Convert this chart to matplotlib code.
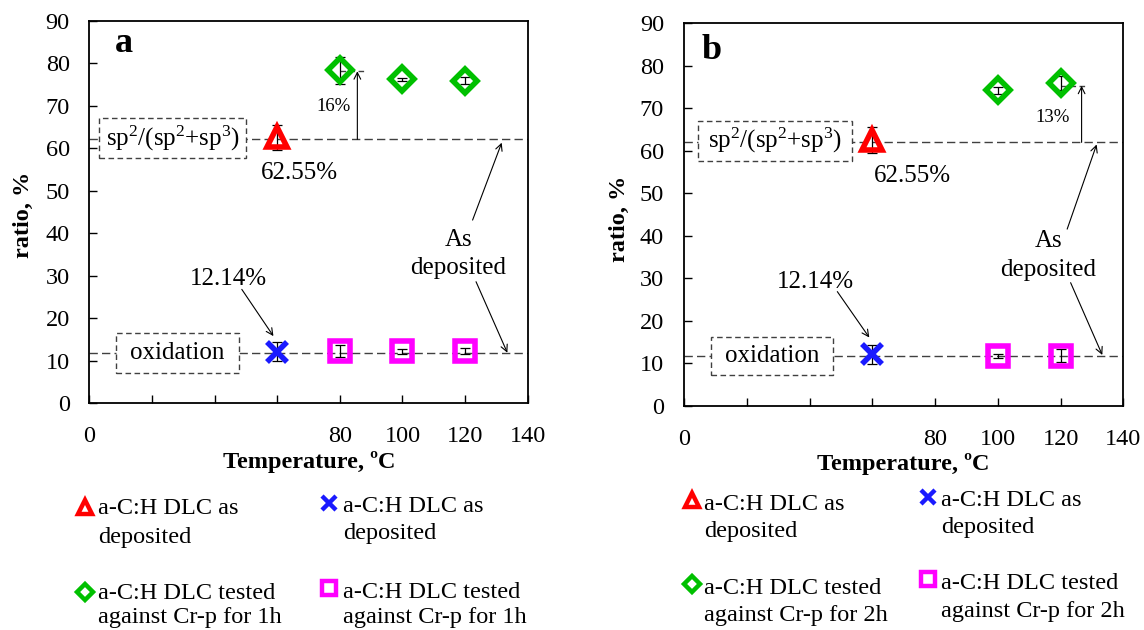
import matplotlib
matplotlib.use("Agg")
import matplotlib.pyplot as plt
from matplotlib.patches import Rectangle
from matplotlib.lines import Line2D

plt.rcParams['font.family'] = ['Liberation Serif', 'DejaVu Serif']
plt.rcParams['mathtext.fontset'] = 'custom'
plt.rcParams['mathtext.rm'] = 'Liberation Serif'
plt.rcParams['mathtext.default'] = 'rm'

# ---------------- data ----------------
asdep_temp = [60]
asdep_sp2 = [62.55]
asdep_sp2_err = [3.0]
asdep_ox = [12.14]
asdep_ox_err = [2.3]

temps_a = [80, 100, 120]
sp2_a = [78.3, 76.2, 75.9]
sp2_a_err = [3.25, 0.3, 0.8]
ox_a = [12.3, 12.2, 12.3]
ox_a_err = [1.4, 0.55, 0.65]

temps_b = [100, 120]
sp2_b = [74.2, 75.9]
sp2_b_err = [0.9, 1.6]
ox_b = [11.8, 11.8]
ox_b_err = [0.4, 1.5]

xticks = [0, 20, 40, 60, 80, 100, 120, 140]
xticklabels = ['0', '', '', '', '80', '100', '120', '140']
yticks = [0, 10, 20, 30, 40, 50, 60, 70, 80, 90]

W, H = 1144, 630
fig = plt.figure(figsize=(W / 100, H / 100), dpi=100)

RED = '#FF0000'
GREEN = '#00C000'
BLUE = '#1A1AFF'
MAG = '#FF00FF'
DASH = '#404040'


def px(x, y):
    return x / W, 1 - y / H


def panel(rect, letter, t_sp2, v_sp2, e_sp2, t_ox, v_ox, e_ox, sp2_line, ox_line,
          box1, box2, pct_txt, pct_pos, arrow_x, arrow_top, dash_x0, dash_x1,
          p6255, p1214, a1214, as_pos, as_arr1, as_arr2, letter_pos, ypad):
    ax = fig.add_axes(rect)
    ax.set_xlim(0, 140)
    ax.set_ylim(0, 90)
    ax.set_xticks(xticks)
    ax.set_xticklabels(xticklabels)
    ax.set_yticks(yticks)
    ax.tick_params(axis='both', direction='in', length=5.5, width=1, labelsize=17.5)
    ax.tick_params(axis='x', pad=16.5)
    ax.tick_params(axis='y', pad=ypad)
    for s in ax.spines.values():
        s.set_linewidth(1.3)

    # reference dashed lines
    ax.plot([0, 140], [sp2_line, sp2_line], ls=(0, (6, 3)), color=DASH, lw=1.0, zorder=1)
    ax.plot([0, 140], [ox_line, ox_line], ls=(0, (6, 3)), color=DASH, lw=1.0, zorder=1)

    # boxes
    for (x0, x1, y0, y1, txt) in [box1, box2]:
        ax.add_patch(Rectangle((x0, y0), x1 - x0, y1 - y0, facecolor='white',
                               edgecolor=DASH, ls=(0, (4, 2.5)), lw=1.0, zorder=2))
        ax.text((x0 + x1) / 2, (y0 + y1) / 2, txt, ha='center', va='center',
                fontsize=18, zorder=3)

    # error bars
    ekw = dict(fmt='none', ecolor='black', elinewidth=0.9, capsize=3.5, capthick=0.9, zorder=4)
    ax.errorbar(asdep_temp, asdep_sp2, yerr=asdep_sp2_err, **ekw)
    ax.errorbar(asdep_temp, asdep_ox, yerr=asdep_ox_err, **ekw)
    ax.errorbar(t_sp2, v_sp2, yerr=e_sp2, **ekw)
    ax.errorbar(t_ox, v_ox, yerr=e_ox, **ekw)

    # markers
    ax.plot(asdep_temp, asdep_sp2, ls='none', marker='^', ms=15, mfc='none',
            mec=RED, mew=4, zorder=5)
    ax.plot(asdep_temp, asdep_ox, ls='none', marker='x', ms=15, mec=BLUE,
            mew=4, zorder=5)
    ax.plot(t_sp2, v_sp2, ls='none', marker='D', ms=12.5, mfc='none', mec=GREEN,
            mew=4, zorder=5)
    ax.plot(t_ox, v_ox, ls='none', marker='s', ms=14.5, mfc='none', mec=MAG,
            mew=4, zorder=5)

    # increase arrow
    ax.plot([dash_x0, dash_x1], [arrow_top, arrow_top], ls=(0, (4, 2.5)), color=DASH, lw=1.0, zorder=3)
    ax.annotate('', xy=(arrow_x, arrow_top), xytext=(arrow_x, sp2_line),
                arrowprops=dict(arrowstyle='->', lw=0.8, color='black',
                                shrinkA=0, shrinkB=0, mutation_scale=12))
    ax.text(pct_pos[0], pct_pos[1], pct_txt, ha='center', va='center', fontsize=13.5)

    ax.text(p6255[0], p6255[1], '62.55%', ha='center', va='center', fontsize=18)
    ax.text(p1214[0], p1214[1], '12.14%', ha='center', va='center', fontsize=18)
    ax.annotate('', xy=a1214[1], xytext=a1214[0],
                arrowprops=dict(arrowstyle='->', lw=0.8, color='black',
                                shrinkA=0, shrinkB=0, mutation_scale=12))
    ax.text(as_pos[0], as_pos[1], 'As\ndeposited', ha='center', va='center',
            fontsize=18, linespacing=1.4)
    for a in (as_arr1, as_arr2):
        ax.annotate('', xy=a[1], xytext=a[0],
                    arrowprops=dict(arrowstyle='->', lw=0.8, color='black',
                                    shrinkA=0, shrinkB=0, mutation_scale=12))
    ax.text(letter_pos[0], letter_pos[1], letter, ha='center', va='center',
            fontsize=26, fontweight='bold')
    return ax


sp2_label = 'sp$^2$/(sp$^2$+sp$^3$)'

ax_a = panel(
    [89.3 / W, 1 - 403.3 / H, 438.4 / W, 382.6 / H], 'a',
    temps_a, sp2_a, sp2_a_err, temps_a, ox_a, ox_a_err, 62.1, 11.8,
    (3.1, 50.1, 57.6, 67.1, sp2_label), (8.4, 47.8, 7.1, 16.5, 'oxidation'),
    '16%', (78.0, 69.7), 85.6, 78.1, 80, 88.5,
    (67.1, 54.2), (44.4, 29.3), ((48.7, 26.8), (58.8, 15.8)),
    (117.9, 35.1), ((122.4, 43.1), (131.7, 61.3)), ((123.5, 28.6), (133.5, 11.9)),
    (11.1, 84.7), 14)

ax_b = panel(
    [684.3 / W, 1 - 406 / H, 439 / W, 382.7 / H], 'b',
    temps_b, sp2_b, sp2_b_err, temps_b, ox_b, ox_b_err, 62.0, 11.85,
    (4.5, 53.4, 57.6, 67.1, sp2_label), (8.5, 47.5, 7.3, 16.3, 'oxidation'),
    '13%', (117.5, 67.8), 126.7, 75.3, 120, 128.8,
    (72.8, 54.2), (41.7, 29.1), ((48.8, 26.9), (59.0, 16.1)),
    (116.1, 35.4), ((122.1, 41.6), (131.5, 61.5)), ((123.2, 29.0), (133.3, 12.0)),
    (8.7, 83.7), 14.6)

# axis labels
for (xl, yl) in [((308.8, 461.7), (23.3, 215)), ((903.7, 464), (619, 218.5))]:
    fig.text(*px(*xl), 'Temperature, ºC', ha='center', va='center', fontsize=17.5,
             fontweight='bold')
    fig.text(*px(*yl), 'ratio, %', ha='center', va='center', fontsize=17.5,
             fontweight='bold', rotation=90)

# legends (drawn manually: marker + two text lines)
leg_style = {
    '^': dict(marker='^', ms=9.5, mfc='none', mec=RED, mew=3.2),
    'x': dict(marker='x', ms=9.5, mec=BLUE, mew=3.2),
    'D': dict(marker='D', ms=8, mfc='none', mec=GREEN, mew=3.2),
    's': dict(marker='s', ms=9.5, mfc='none', mec=MAG, mew=3.2),
}
legend_entries = [
    # marker, marker px, text left px, line1 center y, line2 center y, lines
    ('^', (85, 506.7), 98.3, 506.7, 535, ('a-C:H DLC as', 'deposited')),
    ('x', (329.3, 503.3), 342.7, 505, 531.7, ('a-C:H DLC as', 'deposited')),
    ('D', (85, 591.7), 98.3, 591.7, 615.5, ('a-C:H DLC tested', 'against Cr-p for 1h')),
    ('s', (329.3, 588.3), 342.7, 590, 615.0, ('a-C:H DLC tested', 'against Cr-p for 1h')),
    ('^', (691.5, 500), 704, 503, 530, ('a-C:H DLC as', 'deposited')),
    ('x', (928, 496.7), 940.7, 498.3, 525, ('a-C:H DLC as', 'deposited')),
    ('D', (691.5, 584), 704, 586, 613.3, ('a-C:H DLC tested', 'against Cr-p for 2h')),
    ('s', (928, 579.3), 940.7, 581.7, 609.3, ('a-C:H DLC tested', 'against Cr-p for 2h')),
]
for mk, (mx, my), tx, y1, y2, lines in legend_entries:
    fx, fy = px(mx, my)
    fig.add_artist(Line2D([fx], [fy], transform=fig.transFigure, ls='none',
                          **leg_style[mk]))
    for yy, line in zip((y1, y2), lines):
        fig.text(*px(tx, yy + 7.5), line, ha='left', va='baseline', fontsize=17.5)

fig.savefig('out.png', dpi=100)
